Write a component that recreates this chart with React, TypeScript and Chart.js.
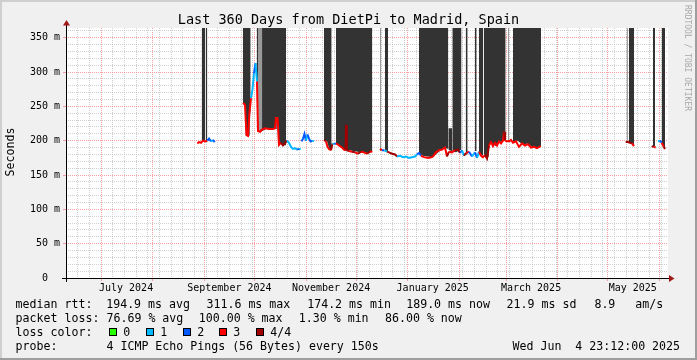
import React, { useEffect, useRef } from "react";
import { Chart, registerables } from "chart.js";

Chart.register(...registerables);

// ---------------- data ----------------
const titleText = "Last 360 Days from DietPi to Madrid, Spain";
const yAxisTitle = "Seconds";
const watermarkText = "RRDTOOL / TOBI OETIKER";

// x values are days since Sun Jun 9 2024 23:12
const xMaxDays = 361.2;
const yMaxMs = 364.1;
const monthStartDays = [21.033, 52.033, 83.033, 113.033, 144.033, 174.033, 205.033, 236.033, 264.033, 295.033, 325.033, 356.033];
const monthLabelText = ["July 2024", "September 2024", "November 2024", "January 2025", "March 2025", "May 2025"];
const monthLabelDays = [36.033, 98.033, 159.033, 220.033, 279.033, 340.033];
const firstMondayDay = 0.033;
const weekCount = 52;
const yTickStep = 10;
const yMajorStep = 50;

const lossColors = ["#26ff00", "#00b8ff", "#0059ff", "#ff0000", "#a10000"];
const lossLabels = ["0", "1", "2", "3", "4/4"];

const rttStats = ["194.9 ms avg", "311.6 ms max", "174.2 ms min", "189.0 ms now", "21.9 ms sd", "8.9", "am/s"];
const lossStats = ["76.69 % avg", "100.00 % max", "1.30 % min", "86.00 % now"];
const probeText = "4 ICMP Echo Pings (56 Bytes) every 150s";
const dateText = "Wed Jun  4 23:12:00 2025";

// median rtt (ms) with loss level (0..4); null = no data
const medianDays = [
  78.8, 79.8, 81.0, 82.2, 83.4, 84.8, 85.8, 87.0, 88.2, 89.2,
  97.0,
  106.2, 107.4, 108.3, 109.2, 110.1, 111.0, 111.9, 112.8, 113.7, 114.6,
  115.2, 116.4, 117.6, 119.4, 121.8, 124.2, 125.4, 126.0, 126.9, 127.8,
  129.0, 130.2, 131.4, 132.6, 133.8, 135.0, 136.2, 137.4, 138.6, 139.8, 140.8,
  141.1,
  141.4, 142.2, 143.1, 144.0, 144.9, 145.8, 146.7, 147.6, 148.8,
  151.0,
  154.8, 156.0, 156.9, 157.8, 159.0, 159.9, 161.1, 162.0, 163.2, 164.4,
  165.6, 166.8, 167.7, 168.0, 168.5, 169.8, 171.6, 173.4, 175.2, 177.0,
  178.8, 180.6, 182.4, 183.8,
  186.0,
  188.4, 189.6, 191.1, 192.6, 193.8, 195.6, 197.4, 198.6, 200.4, 202.2,
  204.0, 205.8, 207.6, 209.4, 210.6, 211.8, 213.0, 214.8, 216.6, 218.4,
  220.2, 222.0, 223.8, 225.6, 227.4, 228.6, 229.8, 231.6, 233.4, 235.2,
  236.4, 237.6, 238.8, 240.0, 241.8, 243.6, 245.4, 246.6, 247.8, 249.0,
  250.2, 251.4, 252.6, 253.8, 255.0, 256.2, 257.4, 258.6, 259.8, 261.0,
  262.2, 262.8, 263.4, 264.6, 265.8, 267.0, 268.2, 270.0, 271.8, 273.6,
  275.4, 277.2, 279.0, 280.8, 282.6, 284.8,
  310.0,
  335.8, 337.2, 338.4, 339.6, 340.8,
  346.0,
  351.4, 352.8, 353.8,
  354.5,
  355.2, 356.4, 357.4, 358.5, 359.4,
];
const medianRtt: (number | null)[] = [
  196, 198, 197, 200, 199, 200, 203, 199, 201, 198,
  null,
  255, 252, 208, 207, 241, 262, 275, 298, 313, 286,
  214, 213, 216, 218, 217, 217, 218, 233, 233, 194,
  197, 193, 196, 200, 197, 191, 188, 189, 187, 188, 188,
  null,
  199, 203, 210, 200, 209, 203, 199, 200, 199,
  null,
  201, 199, 191, 188, 186, 196, 195, 196, 194, 192,
  190, 187, 186, 223, 186, 185, 184, 183, 181, 184,
  183, 181, 184, 184,
  null,
  188, 186, 186, 184, 183, 181, 180, 177, 178, 176,
  177, 175, 176, 177, 180, 182, 178, 176, 175, 175,
  177, 183, 186, 187, 190, 177, 184, 183, 186, 187,
  182, 186, 178, 182, 184, 177, 183, 175, 184, 178,
  176, 179, 174, 193, 198, 192, 197, 193, 199, 196,
  200, 213, 200, 199, 199, 201, 197, 199, 191, 196,
  193, 195, 190, 191, 189, 192,
  null,
  198, 198, 197, 196, 192,
  null,
  192, 191, 190,
  null,
  199, 200, 197, 192, 188,
];
const medianLoss = [
  3, 3, 3, 3, 3, 2, 2, 1, 2, 2,
  0,
  3, 3, 3, 3, 3, 1, 1, 2, 1, 3,
  3, 3, 3, 3, 3, 3, 3, 3, 3, 3,
  4, 4, 4, 1, 1, 1, 1, 1, 2, 1, 1,
  0,
  2, 2, 2, 1, 2, 2, 2, 1, 3,
  0,
  4, 3, 3, 3, 4, 1, 2, 3, 3, 3,
  3, 3, 4, 4, 4, 3, 4, 3, 4, 3,
  3, 4, 3, 3,
  0,
  3, 2, 1, 4, 4, 4, 4, 1, 1, 1,
  1, 1, 1, 1, 2, 2, 3, 3, 3, 3,
  3, 3, 3, 3, 3, 4, 3, 3, 4, 4,
  2, 1, 4, 3, 2, 1, 2, 1, 3, 3,
  3, 4, 4, 3, 3, 3, 3, 3, 3, 3,
  3, 4, 3, 3, 3, 3, 3, 3, 3, 3,
  3, 3, 3, 3, 3, 3,
  0,
  4, 4, 4, 3, 3,
  0,
  4, 3, 4,
  0,
  1, 2, 3, 4, 3,
];

// dark smoke: lower edge (ms), reaching above the top of the graph
const smokeDays = [
  81.4, 83.5, 83.65, 83.8, 84.8, 95.0,
  106.2, 107.4, 107.8, 109.8, 110.2, 110.8, 112.0,
  114.4, 115.2, 117.8, 120.0, 126.0, 126.4, 127.0, 127.4, 129.0, 132.0, 140.0,
  154.8, 156.6, 157.8, 159.4, 160.5,
  162.0, 163.8, 165.8, 167.6, 170.0, 175.0, 180.0, 183.8, 187.0,
  191.4, 193.2, 200.0,
  211.8, 214.0, 220.0, 223.8, 226.8, 229.4, 230.0,
  231.8, 234.0, 237.2, 238.5,
  239.8, 241.0, 243.0,
  245.4, 246.4, 247.0,
  247.8, 250.4, 250.6,
  250.8, 253.6, 253.8, 256.0, 258.0, 260.0, 262.2, 262.6, 263.8, 266.0,
  268.2, 271.0, 274.0, 277.0, 280.0, 283.0, 285.0, 300.0,
  336.4, 337.0, 337.4,
  337.8, 340.0, 340.8, 345.0,
  352.2, 353.4, 355.0,
  357.4, 359.4,
];
const smokeLow: (number | null)[] = [
  200, 200, null, 200, 200, null,
  254, 254, 208, 207, 241, 241, null,
  290, 213, 214, 217, 217, 233, 233, 194, 196, 193, null,
  201, 199, 189, 186, null,
  196, 194, 189, 186, 186, 184, 182, 184, null,
  185, 185, null,
  182, 178, 176, 184, 190, 188, null,
  184, 183, 187, null,
  180, 180, null,
  185, 185, null,
  180, 178, null,
  180, 176, 195, 196, 192, 198, 199, 213, 199, null,
  198, 200, 194, 196, 190, 189, 192, null,
  199, 199, null,
  198, 196, 192, null,
  192, 192, null,
  198, 188,
];

// light smoke stripes
const lightSmokeDays = [115.2, 117.8, 118.5, 188.4, 189.2, 190.0, 237.2, 237.8, 238.2, 265.2, 266.0];
const lightSmokeLow: (number | null)[] = [213, 214, null, 185, 185, null, 187, 186, null, 199, 199];

// smoke that stops below the top
const partialSmokeDays = [229.4, 231.8];
const partialSmokeLow = [187, 184];
const partialSmokeTop = 218;

// ---------------- styling ----------------
const MONO = '"DejaVu Sans Mono", monospace';
const MAJOR = "rgba(245,128,128,0.75)";
const MINOR = "rgba(191,191,191,0.75)";
const CLEAR = "rgba(0,0,0,0)";
const ARROW = "#a01818";

const isMonth = (v: number) => monthStartDays.some((m) => Math.abs(m - v) < 0.01);

const decor = {
  id: "decor",
  beforeDraw(chart: any) {
    const { ctx, chartArea: a, width, height } = chart;
    ctx.save();
    ctx.fillStyle = "#f0f0f0";
    ctx.fillRect(0, 0, width, height);
    ctx.fillStyle = "#cfcfcf";
    ctx.fillRect(0, 0, width, 2);
    ctx.fillRect(0, 0, 2, height);
    ctx.fillStyle = "#9e9e9e";
    ctx.fillRect(0, height - 2, width, 2);
    ctx.fillRect(width - 2, 0, 2, height);
    ctx.fillStyle = "#ffffff";
    ctx.fillRect(a.left, a.top, a.right - a.left, a.bottom - a.top);
    ctx.restore();
  },
  afterDraw(chart: any) {
    const { ctx } = chart;
    const xs = chart.scales.x;
    const ys = chart.scales.y;
    const ax = Math.round(xs.getPixelForValue(0));
    const ay = Math.round(ys.getPixelForValue(0));
    ctx.save();
    // axes
    ctx.fillStyle = "#000";
    ctx.fillRect(ax - 4, ay, 674 - (ax - 4) - 4, 1);
    ctx.fillRect(ax, 23, 1, ay + 4 - 23);
    ctx.fillStyle = ARROW;
    ctx.beginPath();
    ctx.moveTo(ax - 3, 25.5);
    ctx.lineTo(ax + 0.5, 20);
    ctx.lineTo(ax + 4, 25.5);
    ctx.closePath();
    ctx.fill();
    ctx.beginPath();
    ctx.moveTo(669, ay - 3);
    ctx.lineTo(674.5, ay + 0.5);
    ctx.lineTo(669, ay + 4);
    ctx.closePath();
    ctx.fill();

    ctx.fillStyle = "#000";
    // title
    ctx.font = `13.5px ${MONO}`;
    ctx.textAlign = "center";
    ctx.textBaseline = "alphabetic";
    ctx.fillText(titleText, 348.5, 24);

    // month labels
    ctx.font = `10px ${MONO}`;
    monthLabelText.forEach((t, i) => {
      ctx.fillText(t, xs.getPixelForValue(monthLabelDays[i]), 291);
    });

    // y axis title
    ctx.save();
    ctx.font = `11.6px ${MONO}`;
    ctx.translate(10.5, 152);
    ctx.rotate(-Math.PI / 2);
    ctx.textAlign = "center";
    ctx.textBaseline = "middle";
    ctx.fillText(yAxisTitle, 0, 0);
    ctx.restore();

    // watermark
    ctx.save();
    ctx.font = `8px ${MONO}`;
    ctx.fillStyle = "#a8a8a8";
    ctx.translate(687.5, 5);
    ctx.rotate(Math.PI / 2);
    ctx.textAlign = "left";
    ctx.textBaseline = "middle";
    ctx.fillText(watermarkText, 0, 0);
    ctx.restore();

    // legend
    ctx.font = `11.6px ${MONO}`;
    ctx.textAlign = "left";
    ctx.textBaseline = "alphabetic";
    ctx.fillStyle = "#000";
    ctx.fillText("median rtt:", 15.6, 308);
    const rttX = [106.2, 206.5, 307.2, 406.2, 506.6, 594.4, 635.2];
    rttStats.forEach((t, i) => ctx.fillText(t, rttX[i], 308));
    ctx.fillText("packet loss:", 15.6, 322);
    const lossX = [106.5, 198.8, 298.8, 385];
    lossStats.forEach((t, i) => ctx.fillText(t, lossX[i], 322));
    ctx.fillText("loss color:", 15.6, 336);
    const sqX = [109, 146, 183, 219, 256];
    lossColors.forEach((c, i) => {
      ctx.fillStyle = c;
      ctx.fillRect(sqX[i], 328, 8, 8);
      ctx.strokeStyle = "#000";
      ctx.lineWidth = 1;
      ctx.strokeRect(sqX[i] + 0.5, 328.5, 7, 7);
      ctx.fillStyle = "#000";
      ctx.fillText(lossLabels[i], sqX[i] + 14.3, 336);
    });
    ctx.fillText("probe:", 15.6, 350);
    ctx.fillText(probeText, 106.5, 350);
    ctx.fillText(dateText, 512.5, 350);
    ctx.restore();
  },
};

function pts(days: number[], vals: (number | null)[]) {
  return days.map((d, i) => ({ x: d, y: vals[i] }));
}

export default function App() {
  const canvasRef = useRef<HTMLCanvasElement | null>(null);

  useEffect(() => {
    const canvas = canvasRef.current;
    if (!canvas) return;

    const weekTicks: number[] = [];
    for (let k = 0; k < weekCount; k++) {
      const v = firstMondayDay + 7 * k;
      if (v <= xMaxDays && !isMonth(v)) weekTicks.push(v);
    }
    const xTicks = [...weekTicks, ...monthStartDays];
    const yTicks: number[] = [];
    for (let v = 0; v <= yMaxMs; v += yTickStep) yTicks.push(v);

    const chart = new Chart(canvas, {
      type: "line",
      data: {
        datasets: [
          {
            label: "median",
            data: pts(medianDays, medianRtt),
            order: 0,
            borderWidth: 2,
            borderColor: lossColors[3],
            pointRadius: 0,
            tension: 0,
            fill: false,
            spanGaps: false,
            segment: {
              borderColor: (c: any) => lossColors[medianLoss[c.p0DataIndex]] || lossColors[3],
            },
          } as any,
          {
            label: "smoke-light",
            data: pts(lightSmokeDays, lightSmokeLow),
            order: 1,
            borderWidth: 0,
            borderColor: CLEAR,
            backgroundColor: "#9a9a9a",
            pointRadius: 0,
            tension: 0,
            fill: "end",
            spanGaps: false,
          },
          {
            label: "smoke-dark",
            data: pts(smokeDays, smokeLow),
            order: 2,
            borderWidth: 0,
            borderColor: CLEAR,
            backgroundColor: "#333333",
            pointRadius: 0,
            tension: 0,
            fill: "end",
            spanGaps: false,
          },
          {
            label: "smoke-partial",
            data: pts(partialSmokeDays, partialSmokeLow),
            order: 2,
            borderWidth: 0,
            borderColor: CLEAR,
            backgroundColor: "#333333",
            pointRadius: 0,
            tension: 0,
            fill: { value: partialSmokeTop },
            spanGaps: false,
          },
        ],
      },
      options: {
        responsive: false,
        animation: false,
        devicePixelRatio: 1,
        events: [],
        layout: { padding: { left: 0, top: 28, right: 29, bottom: 0 } },
        plugins: {
          legend: { display: false },
          title: { display: false },
          tooltip: { enabled: false },
        },
        scales: {
          x: {
            type: "linear",
            min: 0,
            max: xMaxDays,
            afterBuildTicks: (s: any) => {
              s.ticks = xTicks.map((v) => ({ value: v }));
            },
            afterFit: (s: any) => {
              s.height = 82;
            },
            ticks: { display: false, autoSkip: false },
            grid: {
              color: (c: any) => (c.tick && isMonth(c.tick.value) ? MAJOR : MINOR),
              lineWidth: 1,
              drawTicks: true,
              tickLength: 3,
              tickWidth: 1,
              tickColor: (c: any) => (c.tick && isMonth(c.tick.value) ? MAJOR : CLEAR),
            },
            border: { display: false, dash: [1, 1] },
          },
          y: {
            type: "linear",
            min: 0,
            max: yMaxMs,
            afterBuildTicks: (s: any) => {
              s.ticks = yTicks.map((v) => ({ value: v }));
            },
            afterFit: (s: any) => {
              s.width = 66;
            },
            ticks: {
              autoSkip: false,
              padding: 3,
              color: "#000",
              font: { family: "DejaVu Sans Mono", size: 10 },
              callback: (value: any) => {
                const v = Number(value);
                if (Math.abs(v % yMajorStep) > 0.001) return "";
                return v === 0 ? "0  " : `${v} m`;
              },
            },
            grid: {
              color: (c: any) => (c.tick && Math.abs(c.tick.value % yMajorStep) < 0.001 ? MAJOR : MINOR),
              lineWidth: 1,
              drawTicks: true,
              tickLength: 3,
              tickWidth: 1,
              tickColor: (c: any) => (c.tick && Math.abs(c.tick.value % yMajorStep) < 0.001 ? MAJOR : CLEAR),
            },
            border: { display: false, dash: [1, 1] },
          },
        },
      },
      plugins: [decor],
    } as any);

    return () => chart.destroy();
  }, []);

  return (
    <div style={{ position: "absolute", left: 0, top: 0, width: 697, height: 360 }}>
      <canvas ref={canvasRef} width={697} height={360} style={{ display: "block", width: 697, height: 360 }} />
    </div>
  );
}
